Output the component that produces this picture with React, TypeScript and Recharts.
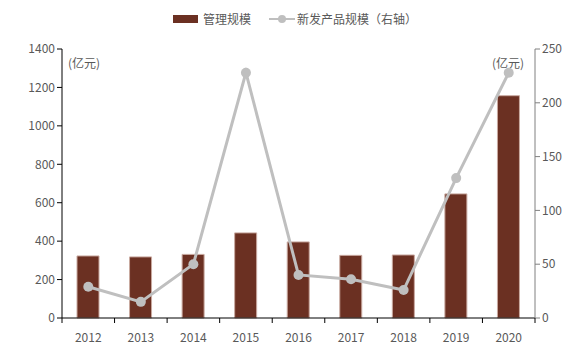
import {
  Bar,
  ComposedChart,
  Line,
  XAxis,
  YAxis,
} from "recharts";

const years = ["2012", "2013", "2014", "2015", "2016", "2017", "2018", "2019", "2020"];
const aum = [323, 318, 331, 443, 396, 326, 328, 646, 1157];
const newProducts = [29, 15, 50, 228, 40, 36, 26, 130, 228];
const leftTicks = [0, 200, 400, 600, 800, 1000, 1200, 1400];
const rightTicks = [0, 50, 100, 150, 200, 250];

const data = years.map((year, i) => ({
  year,
  aum: aum[i],
  newProducts: newProducts[i],
}));

const W = 573;
const H = 364;
const LEFT = 62;
const RIGHT = 535;
const FONT = '"Noto Sans CJK SC", "Noto Sans", sans-serif';
const TEXT = "#595959";
const BAND = (RIGHT - LEFT) / years.length;

function YearTick(props: any) {
  const { x, y, payload, index } = props;
  const left = x - BAND / 2;
  return (
    <g>
      <line x1={left} y1={y - 8} x2={left} y2={y - 3} stroke="#000" />
      {index === years.length - 1 && (
        <line x1={x + BAND / 2} y1={y - 8} x2={x + BAND / 2} y2={y - 3} stroke="#000" />
      )}
      <text x={x} y={y + 16} textAnchor="middle" fill={TEXT} fontSize={12} fontFamily={FONT}>
        {payload.value}
      </text>
    </g>
  );
}

export default function App() {
  return (
    <div style={{ position: "absolute", left: 0, top: 0, width: W, height: H, background: "#fff", fontFamily: FONT }}>
      <div style={{ position: "absolute", top: 11, left: 173, display: "flex", alignItems: "center", fontSize: 12, color: TEXT, lineHeight: "16px" }}>
        <span style={{ display: "inline-block", width: 25, height: 8, background: "#6B3022", marginRight: 5 }} />
        <span>管理规模</span>
        <svg width={26} height={12} style={{ marginLeft: 18, marginRight: 2 }}>
          <line x1={0} y1={6} x2={26} y2={6} stroke="#BFBFBF" strokeWidth={2} />
          <circle cx={13} cy={6} r={4} fill="#BFBFBF" />
        </svg>
        <span>新发产品规模（右轴）</span>
      </div>
      <div style={{ position: "absolute", left: 68, top: 54, fontSize: 12, color: TEXT }}>(亿元)</div>
      <div style={{ position: "absolute", left: 492, top: 54, fontSize: 12, color: TEXT }}>(亿元)</div>
      <ComposedChart
        width={W}
        height={H}
        data={data}
        margin={{ top: 49, right: 0, bottom: 16, left: 0 }}
        barCategoryGap="29%"
      >
        <XAxis
          dataKey="year"
          axisLine={{ stroke: "#000" }}
          tickLine={false}
          tick={<YearTick />}
          interval={0}
          height={30}
        />
        <YAxis
          yAxisId="left"
          domain={[0, 1400]}
          ticks={leftTicks}
          width={LEFT}
          axisLine={{ stroke: "#000" }}
          tickLine={{ stroke: "#000" }}
          tickSize={5}
          tick={{ fill: TEXT, fontSize: 12, fontFamily: FONT }}
        />
        <YAxis
          yAxisId="right"
          orientation="right"
          domain={[0, 250]}
          ticks={rightTicks}
          width={W - RIGHT}
          axisLine={{ stroke: "#808080" }}
          tickLine={{ stroke: "#808080" }}
          tickSize={5}
          tick={{ fill: TEXT, fontSize: 12, fontFamily: FONT, textAnchor: "start" }}
        />
        <Bar
          yAxisId="left"
          dataKey="aum"
          fill="#6B3022"
          stroke="#C9A9A0"
          strokeWidth={1}
          barSize={22}
          isAnimationActive={false}
        />
        <Line
          yAxisId="right"
          dataKey="newProducts"
          stroke="#BFBFBF"
          strokeWidth={3}
          dot={{ r: 5, fill: "#BFBFBF", stroke: "#BFBFBF", strokeWidth: 0 }}
          activeDot={false}
          isAnimationActive={false}
        />
      </ComposedChart>
    </div>
  );
}
